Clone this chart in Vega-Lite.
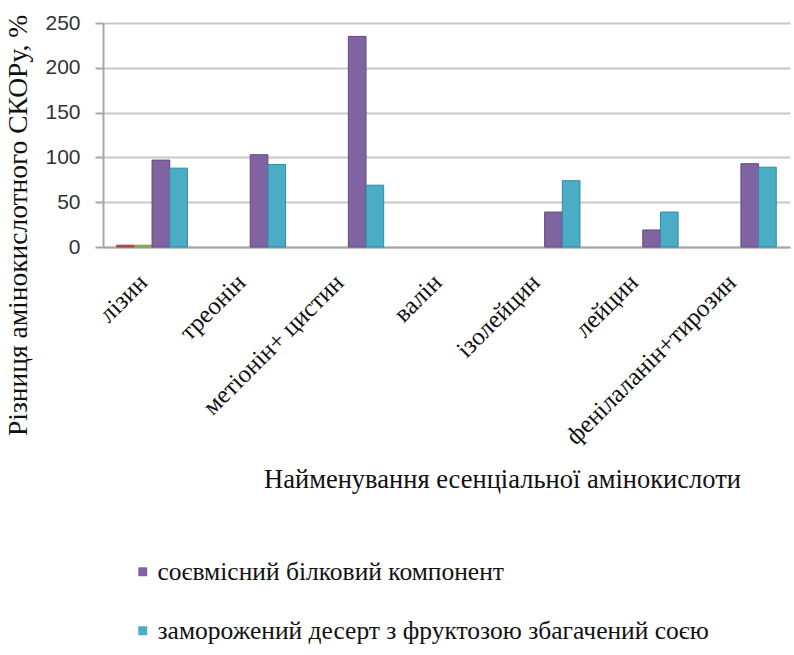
{
  "$schema": "https://vega.github.io/schema/vega-lite/v6.json",
  "autosize": {"type": "none"},
  "padding": {"left": 103, "top": 23, "right": 4, "bottom": 408},
  "width": 687,
  "height": 224,
  "background": "white",
  "config": {
    "view": {"stroke": null},
    "font": "Liberation Serif"
  },
  "data": {
    "values": [
      {"kislota": "лізин", "seria": "ряд 1", "value": 2},
      {"kislota": "лізин", "seria": "ряд 2", "value": 2},
      {"kislota": "лізин", "seria": "соєвмісний білковий компонент", "value": 97},
      {"kislota": "лізин", "seria": "заморожений десерт з фруктозою збагачений соєю", "value": 88},
      {"kislota": "треонін", "seria": "соєвмісний білковий компонент", "value": 103},
      {"kislota": "треонін", "seria": "заморожений десерт з фруктозою збагачений соєю", "value": 92},
      {"kislota": "метіонін+ цистин", "seria": "соєвмісний білковий компонент", "value": 235},
      {"kislota": "метіонін+ цистин", "seria": "заморожений десерт з фруктозою збагачений соєю", "value": 69},
      {"kislota": "ізолейцин", "seria": "соєвмісний білковий компонент", "value": 39},
      {"kislota": "ізолейцин", "seria": "заморожений десерт з фруктозою збагачений соєю", "value": 74},
      {"kislota": "лейцин", "seria": "соєвмісний білковий компонент", "value": 19},
      {"kislota": "лейцин", "seria": "заморожений десерт з фруктозою збагачений соєю", "value": 39},
      {"kislota": "фенілаланін+тирозин", "seria": "соєвмісний білковий компонент", "value": 93},
      {"kislota": "фенілаланін+тирозин", "seria": "заморожений десерт з фруктозою збагачений соєю", "value": 89}
    ]
  },
  "mark": {"type": "bar", "strokeWidth": 1},
  "encoding": {
    "x": {
      "field": "kislota",
      "type": "nominal",
      "sort": null,
      "scale": {
        "domain": ["лізин", "треонін", "метіонін+ цистин", "валін", "ізолейцин", "лейцин", "фенілаланін+тирозин"],
        "paddingInner": 0.28,
        "paddingOuter": 0.14
      },
      "axis": {
        "title": "Найменування есенціальної  амінокислоти",
        "titleFont": "Liberation Serif",
        "titleFontSize": 26.5,
        "titleFontWeight": "normal",
        "titleColor": "#111111",
        "titleX": 399,
        "titleY": 232,
        "titleAlign": "center",
        "titleBaseline": "middle",
        "labelFont": "Liberation Serif",
        "labelAngle": -45,
        "labelAlign": "right",
        "labelBaseline": "middle",
        "labelFontSize": 25,
        "labelColor": "#111111",
        "labelPadding": 31,
        "labelOffset": -9,
        "labelOverlap": false,
        "labelLimit": 400,
        "ticks": false,
        "domainColor": "#a6a6a6",
        "domainWidth": 2,
        "grid": false
      }
    },
    "xOffset": {
      "field": "seria",
      "type": "nominal",
      "scale": {
        "domain": ["ряд 1", "ряд 2", "соєвмісний білковий компонент", "заморожений десерт з фруктозою збагачений соєю"],
        "paddingInner": 0
      }
    },
    "y": {
      "field": "value",
      "type": "quantitative",
      "scale": {"domain": [0, 250]},
      "axis": {
        "values": [0, 50, 100, 150, 200, 250],
        "title": "Різниця амінокислотного СКОРу, %",
        "titleFont": "Liberation Serif",
        "titleFontSize": 27.5,
        "titleFontWeight": "normal",
        "titleColor": "#111111",
        "titleAngle": -90,
        "titleX": -85,
        "titleY": 202,
        "titleAlign": "center",
        "titleBaseline": "middle",
        "labelFont": "Liberation Sans",
        "labelFontSize": 21,
        "labelColor": "#333333",
        "labelPadding": 15,
        "tickSize": 8,
        "tickColor": "#a6a6a6",
        "tickWidth": 2,
        "domainColor": "#a6a6a6",
        "domainWidth": 2,
        "gridColor": "#c8c8c8",
        "gridWidth": 2
      }
    },
    "color": {
      "field": "seria",
      "type": "nominal",
      "scale": {
        "domain": ["ряд 1", "ряд 2", "соєвмісний білковий компонент", "заморожений десерт з фруктозою збагачений соєю"],
        "range": ["#c0504d", "#9bbb59", "#8064a2", "#4bacc6"]
      },
      "legend": {
        "values": ["соєвмісний білковий компонент", "заморожений десерт з фруктозою збагачений соєю"],
        "title": null,
        "orient": "none",
        "legendX": 27,
        "legendY": 536,
        "direction": "vertical",
        "symbolType": "square",
        "symbolSize": 80,
        "symbolStrokeWidth": 0,
        "labelFont": "Liberation Serif",
        "labelFontSize": 25.5,
        "labelColor": "#111111",
        "labelLimit": 700,
        "rowPadding": 32,
        "labelOffset": 2
      }
    },
    "stroke": {
      "field": "seria",
      "type": "nominal",
      "scale": {
        "domain": ["ряд 1", "ряд 2", "соєвмісний білковий компонент", "заморожений десерт з фруктозою збагачений соєю"],
        "range": ["#9e3d3a", "#7d9a44", "#5f4a7d", "#2f8aa3"]
      },
      "legend": null
    }
  }
}
